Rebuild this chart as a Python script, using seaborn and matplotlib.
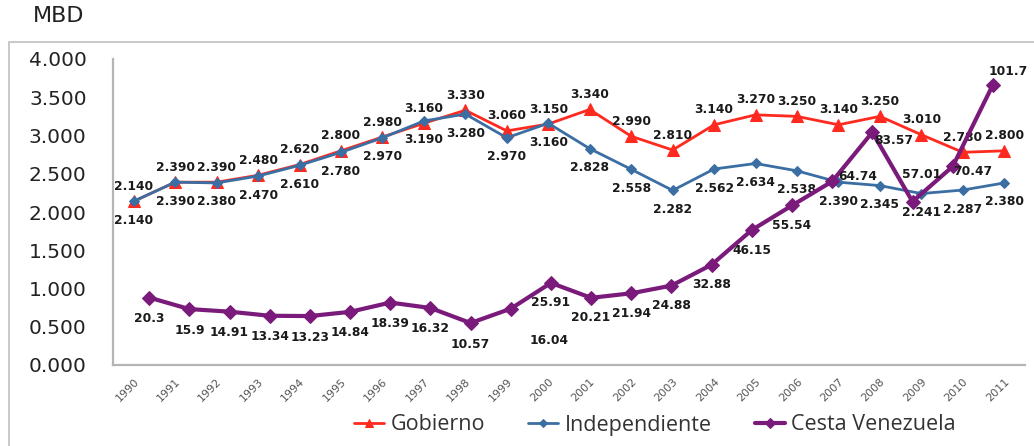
import numpy as np
import pandas as pd
import matplotlib
matplotlib.use("Agg")
import matplotlib.pyplot as plt
from matplotlib.patches import Rectangle
import seaborn as sns

# Data
years = [str(y) for y in range(1990, 2012)]
gobierno = [2.140, 2.390, 2.390, 2.480, 2.620, 2.800, 2.980, 3.160, 3.330, 3.060, 3.150,
            3.340, 2.990, 2.810, 3.140, 3.270, 3.250, 3.140, 3.250, 3.010, 2.780, 2.800]
independiente = [2.140, 2.390, 2.380, 2.470, 2.610, 2.780, 2.970, 3.190, 3.280, 2.970, 3.160,
                 2.828, 2.558, 2.282, 2.562, 2.634, 2.538, 2.390, 2.345, 2.241, 2.287, 2.380]
cesta = [20.3, 15.9, 14.91, 13.34, 13.23, 14.84, 18.39, 16.32, 10.57, 16.04, 25.91,
         20.21, 21.94, 24.88, 32.88, 46.15, 55.54, 64.74, 83.57, 57.01, 70.47, 101.7]
cesta_text = ["20.3", "15.9", "14.91", "13.34", "13.23", "14.84", "18.39", "16.32", "10.57",
              "16.04", "25.91", "20.21", "21.94", "24.88", "32.88", "46.15", "55.54", "64.74",
              "83.57", "57.01", "70.47", "101.7"]
y_ticks = [0.0, 0.5, 1.0, 1.5, 2.0, 2.5, 3.0, 3.5, 4.0]

# label offsets (pixels) for the purple series
cesta_off = [(0, -21)] * 9 + [(38, -32)] + [(0, -20)] * 7 + [(26, 5), (21, -8), (9, 27), (20, -5), (15, 13)]

RED = "#ff2a1f"
BLUE = "#3b6ea3"
PURPLE = "#7a1a7a"

df = pd.DataFrame({"pos": np.arange(len(years)), "gob": gobierno, "ind": independiente, "cesta": cesta})

sns.set_theme(style="white")
plt.rcParams["font.family"] = ["DejaVu Sans"]

fig = plt.figure(figsize=(10.34, 4.46), dpi=100)
ax = fig.add_axes([113 / 1034, 1 - 365 / 446, 912 / 1034, 306 / 446])

sns.lineplot(data=df, x="pos", y="gob", ax=ax, color=RED, marker="^", markersize=8,
             markeredgecolor=RED, linewidth=2, label="Gobierno")
sns.lineplot(data=df, x="pos", y="ind", ax=ax, color=BLUE, marker="D", markersize=5.5,
             markeredgecolor=BLUE, linewidth=2, label="Independiente")

ax.set_xlim(-0.5, len(years) - 0.5)
ax.set_ylim(0, 4)
ax.set_yticks(y_ticks)
ax.set_yticklabels([f"{v:.3f}" for v in y_ticks], fontsize=14.5, color="#222222")
ax.set_xticks(df["pos"])
ax.set_xticklabels(years, rotation=45, ha="right", va="top", rotation_mode="anchor",
                   fontsize=8, color="#555555")
ax.tick_params(axis="y", length=0, pad=19)
ax.tick_params(axis="x", length=0, pad=8)
ax.set_xlabel("")
ax.set_ylabel("")
for s in ["top", "right"]:
    ax.spines[s].set_visible(False)
for s in ["left", "bottom"]:
    ax.spines[s].set_color("#b5b5b5")
    ax.spines[s].set_linewidth(1.6)
ax.get_legend().remove()

lab_kw = dict(textcoords="offset pixels", ha="center", va="center", fontsize=8.8,
              fontweight="bold", color="#1a1a1a")
for i in range(len(years)):
    ax.annotate(f"{gobierno[i]:.3f}", (i, gobierno[i]), xytext=(0, 15), **lab_kw)
    ax.annotate(f"{independiente[i]:.3f}", (i, independiente[i]), xytext=(0, -19), **lab_kw)

# secondary axes for the price basket
ax2 = fig.add_axes(ax.get_position(), facecolor="none")
sns.lineplot(data=df, x="pos", y="cesta", ax=ax2, color=PURPLE, marker="D", markersize=7,
             markeredgecolor=PURPLE, linewidth=3, label="Cesta Venezuela")
ax2.set_xlim(-0.9, 21.8)
ax2.set_ylim(-5.5, 111.6)
ax2.axis("off")
ax2.get_legend().remove()
for i in range(len(years)):
    ax2.annotate(cesta_text[i], (i, cesta[i]), xytext=cesta_off[i], **lab_kw)

fig.text(33 / 1034, 1 - 16 / 446, "MBD", fontsize=16, color="#222222", va="center", ha="left")

handles = ax.get_lines()[:2] + ax2.get_lines()[:1]
fig.legend(handles, ["Gobierno", "Independiente", "Cesta Venezuela"], loc="center",
           bbox_to_anchor=(655 / 1034, 21 / 446), ncol=3, frameon=False,
           prop={"family": "Open Sans", "size": 15.5}, labelcolor="#333333",
           handlelength=1.4, handletextpad=0.3, columnspacing=2.0, markerscale=0.8)

fig.add_artist(Rectangle((9 / 1034, -0.05), 1.1, (446 - 42) / 446 + 0.05,
                         transform=fig.transFigure, fill=False, ec="#c0c0c0", lw=1.2))

fig.savefig("out.png", dpi=100)
